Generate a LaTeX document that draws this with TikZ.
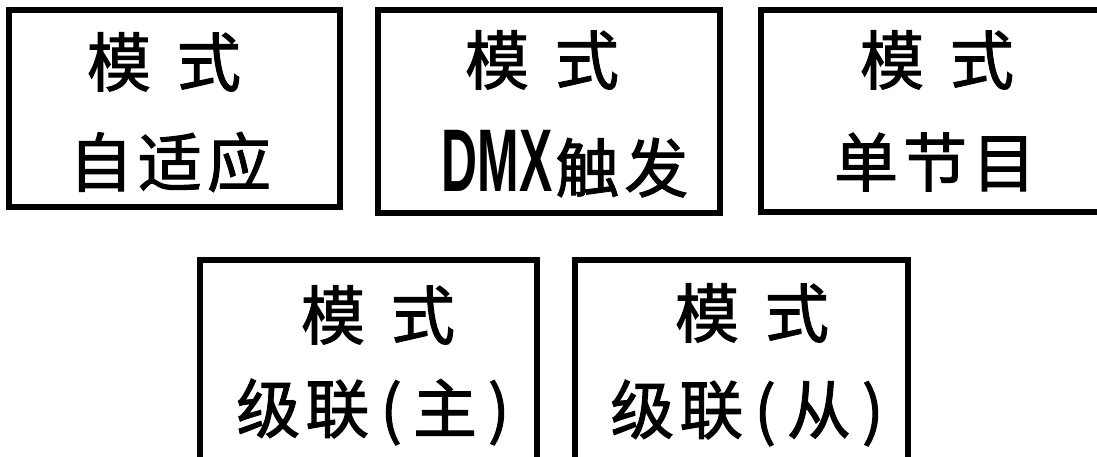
\documentclass[tikz,border=0pt]{standalone}
\usepackage{fontspec}
\newfontfamily\cjk{Noto Sans CJK SC}[FakeBold=1.6]
\newfontfamily\dmx{Liberation Sans}[FakeStretch=0.56]
\def\gapa{26pt}
\def\gapb{5pt}
\def\gapp{11pt}
\begin{document}
\begin{tikzpicture}[x=1pt,y=-1pt,
  box/.style={draw, line width=6pt, inner sep=0pt},
  lbl/.style={inner sep=0pt, font={\cjk\fontsize{64pt}{64pt}\selectfont}}]
\useasboundingbox (0,0) rectangle (1097,457);
\fill[white] (0,0) rectangle (1097,457);
\node[box, minimum width=331pt, minimum height=197pt] (b1) at (174.5,108.5) {};
\node[box, minimum width=342pt, minimum height=203pt] (b2) at (549,111.5) {};
\node[box, minimum width=339pt, minimum height=202pt] (b3) at (930.5,111) {};
\node[box, minimum width=337pt, minimum height=200pt] (b4) at (368.5,360) {};
\node[box, minimum width=333pt, minimum height=200pt] (b5) at (741.5,360) {};
\node[lbl] (t1a) at (164,62) {模\hspace{\gapa}式};
\node[lbl] (t1b) at (170,162) {自\hspace{\gapb}适\hspace{\gapb}应};
\node[lbl] (t2a) at (542,60) {模\hspace{\gapa}式};
\node[lbl] (t2b) at (565,164) {{\dmx\bfseries\fontsize{89pt}{89pt}\selectfont DMX}\hspace{3pt}触\hspace{\gapb}发};
\node[lbl] (t3a) at (937,60) {模\hspace{\gapa}式};
\node[lbl] (t3b) at (935,162) {单\hspace{\gapb}节\hspace{\gapb}目};
\node[lbl] (t4a) at (378,315) {模\hspace{\gapa}式};
\node[lbl] (t4b) at (373,412) {级\hspace{\gapb}联\hspace{\gapp}(\hspace{\gapp}主\hspace{\gapp})};
\node[lbl] (t5a) at (752,313) {模\hspace{\gapa}式};
\node[lbl] (t5b) at (747,413) {级\hspace{\gapb}联\hspace{\gapp}(\hspace{\gapp}从\hspace{\gapp})};
\end{tikzpicture}
\end{document}
